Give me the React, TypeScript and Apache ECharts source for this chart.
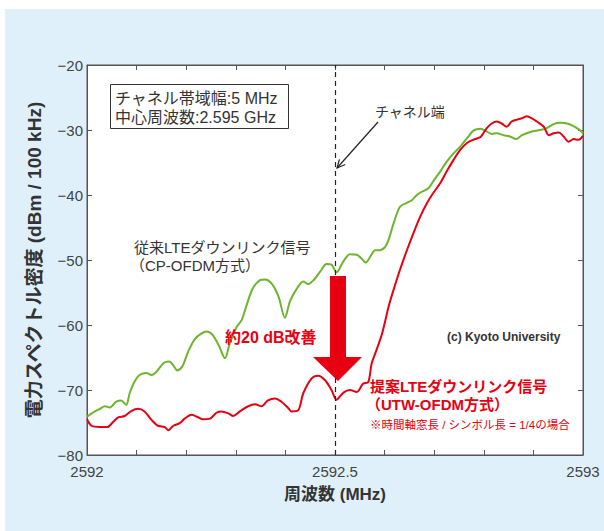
import React, { useEffect, useRef } from "react";
import * as echarts from "echarts";

// ---- data ----
const baseFreqMHz = 2592;
const channelEdgeMHz = 2592.5;
const xTickLabels = ["2592", "2592.5", "2593"];

// Conventional LTE downlink (CP-OFDM), offset from 2592 MHz
const conventionalOffset = [
  0.0, 0.016, 0.026, 0.036, 0.046, 0.059, 0.069, 0.079, 0.086, 0.096, 0.106, 0.12, 0.13, 0.14,
  0.155, 0.166, 0.174, 0.182, 0.192, 0.204, 0.217, 0.231, 0.241, 0.253, 0.266, 0.278, 0.288,
  0.301, 0.312, 0.322, 0.334, 0.349, 0.359, 0.372, 0.386, 0.399, 0.409, 0.423, 0.436, 0.446,
  0.458, 0.47, 0.483, 0.493, 0.503, 0.517, 0.53, 0.544, 0.554, 0.562, 0.571, 0.581, 0.591,
  0.601, 0.608, 0.618, 0.631, 0.645, 0.655, 0.665, 0.675, 0.688, 0.698, 0.712, 0.725, 0.739,
  0.752, 0.766, 0.779, 0.793, 0.803, 0.816, 0.826, 0.84, 0.853, 0.865, 0.877, 0.894, 0.914,
  0.927, 0.941, 0.954, 0.968, 0.981, 0.995, 1.0,
];
const conventionalLevel = [
  -74.1, -73.3, -72.9, -72.5, -72.7, -71.8, -71.6, -72.3, -70.5, -68.7, -67.7, -67.4, -67.7, -67.2,
  -65.8, -65.6, -66.2, -67.0, -66.4, -64.1, -62.2, -61.3, -61.0, -61.5, -63.2, -65.1, -62.8,
  -60.4, -59.2, -56.9, -54.4, -53.1, -53.0, -53.6, -55.6, -58.9, -56.4, -54.4, -53.3, -53.7,
  -53.0, -51.8, -50.6, -50.7, -51.9, -50.2, -49.1, -49.2, -49.8, -50.4, -49.5, -48.5, -48.5,
  -48.0, -46.9, -44.4, -41.8, -41.2, -40.8, -40.0, -39.5, -39.0, -37.9, -36.4, -34.9, -33.6,
  -32.6, -31.3, -30.1, -29.8, -30.1, -30.6, -30.5, -30.8, -31.0, -31.4, -30.8, -30.3, -30.0,
  -29.7, -29.1, -28.9, -29.0, -29.4, -30.1, -30.5,
];

// Proposed LTE downlink (UTW-OFDM), offset from 2592 MHz
const proposedOffset = [
  0.0, 0.009, 0.026, 0.041, 0.053, 0.063, 0.076, 0.09, 0.103, 0.116, 0.13, 0.143, 0.157, 0.164,
  0.174, 0.187, 0.197, 0.211, 0.224, 0.234, 0.248, 0.261, 0.271, 0.285, 0.295, 0.308, 0.325,
  0.339, 0.352, 0.365, 0.379, 0.392, 0.406, 0.412, 0.426, 0.436, 0.453, 0.466, 0.48, 0.493,
  0.503, 0.517, 0.53, 0.544, 0.557, 0.567, 0.574, 0.581, 0.595, 0.608, 0.618, 0.631, 0.645,
  0.658, 0.672, 0.685, 0.698, 0.712, 0.725, 0.739, 0.752, 0.766, 0.779, 0.793, 0.799, 0.806,
  0.816, 0.826, 0.836, 0.846, 0.856, 0.867, 0.877, 0.887, 0.897, 0.907, 0.921, 0.931, 0.941,
  0.951, 0.961, 0.971, 0.981, 0.991, 1.0,
];
const proposedLevel = [
  -74.5, -75.5, -75.7, -75.7, -74.9, -74.2, -74.0, -73.2, -72.9, -73.3, -74.6, -75.5, -75.7, -76.2,
  -75.5, -75.1, -74.4, -73.8, -74.2, -74.5, -74.4, -73.5, -73.3, -73.6, -74.0, -73.3, -72.5,
  -72.2, -72.5, -71.6, -71.3, -71.8, -72.8, -73.3, -73.1, -70.5, -68.2, -67.8, -68.5, -70.0,
  -71.5, -70.4, -70.0, -70.3, -69.0, -68.8, -65.9, -64.4, -61.3, -57.2, -54.6, -51.5, -48.5,
  -45.9, -43.3, -41.3, -39.7, -38.2, -36.4, -34.6, -33.1, -32.0, -31.5, -31.1, -30.5, -29.7,
  -29.0, -28.7, -29.0, -29.5, -28.7, -28.4, -28.2, -27.9, -28.2, -28.7, -29.5, -30.8, -30.5,
  -30.4, -31.0, -31.8, -31.4, -31.5, -30.9,
];

const FONT = "'Liberation Sans', 'Noto Sans CJK JP', sans-serif";
const RED = "#e60012";
const GREEN = "#6cb52d";

function arrowHeadPoints(tx: number, ty: number, fx: number, fy: number, len: number, ang: number) {
  const a = Math.atan2(fy - ty, fx - tx);
  return [
    [tx + len * Math.cos(a + ang), ty + len * Math.sin(a + ang)],
    [tx, ty],
    [tx + len * Math.cos(a - ang), ty + len * Math.sin(a - ang)],
  ];
}

function txt(x: number, y: number, text: string, font: string, fill: string, align = "left") {
  return {
    type: "text",
    x,
    y,
    z: 100,
    silent: true,
    style: {
      text,
      font,
      fill,
      textAlign: align,
      textVerticalAlign: "middle",
      align,
      verticalAlign: "middle",
    },
  };
}

export default function App() {
  const ref = useRef<HTMLDivElement>(null);

  useEffect(() => {
    if (!ref.current) return;
    const chart = echarts.init(ref.current, undefined, { renderer: "svg" });

    const conventionalData = conventionalOffset.map((o, i) => [baseFreqMHz + o, conventionalLevel[i]]);
    const proposedData = proposedOffset.map((o, i) => [baseFreqMHz + o, proposedLevel[i]]);

    const xLabelFormatter = (v: number) => {
      const r = Math.round(v * 10) / 10;
      const s = String(r);
      return xTickLabels.includes(s) ? s : "";
    };

    const axisCommon = {
      axisLine: { show: true, lineStyle: { color: "#555", width: 1 } },
      axisTick: { show: true, inside: true, length: 5, lineStyle: { color: "#555", width: 1 } },
      splitLine: { show: false },
    };

    const thinArrowFrom = [378, 122];
    const thinArrowTo = [337, 168];

    chart.setOption({
      animation: false,
      backgroundColor: "transparent",
      grid: {
        left: 87,
        top: 65,
        right: 21,
        bottom: 76,
        show: true,
        backgroundColor: "#ffffff",
        borderColor: "#555",
        borderWidth: 1,
      },
      xAxis: [
        {
          type: "value",
          min: 2592,
          max: 2593,
          interval: 0.1,
          position: "bottom",
          ...axisCommon,
          axisLabel: {
            formatter: xLabelFormatter,
            color: "#444",
            fontSize: 15,
            fontFamily: FONT,
            margin: 9,
            showMinLabel: true,
            showMaxLabel: true,
          },
          name: "周波数 (MHz)",
          nameLocation: "middle",
          nameGap: 31,
          nameTextStyle: { fontSize: 17, fontWeight: "bold", color: "#333", fontFamily: FONT },
        },
        {
          type: "value",
          min: 2592,
          max: 2593,
          interval: 0.1,
          position: "top",
          ...axisCommon,
          axisLabel: { show: false },
        },
      ],
      yAxis: [
        {
          type: "value",
          min: -80,
          max: -20,
          interval: 10,
          position: "left",
          ...axisCommon,
          axisLabel: {
            formatter: (v: number) => String(v).replace("-", "\u2212"),
            color: "#444",
            fontSize: 15,
            fontFamily: FONT,
            margin: 4,
          },
          name: "電力スペクトル密度 (dBm / 100 kHz)",
          nameLocation: "middle",
          nameRotate: 90,
          nameGap: 43,
          nameTextStyle: { fontSize: 19, fontWeight: "bold", color: "#333", fontFamily: FONT },
        },
        {
          type: "value",
          min: -80,
          max: -20,
          interval: 10,
          position: "right",
          ...axisCommon,
          axisLabel: { show: false },
        },
      ],
      series: [
        {
          type: "line",
          name: "従来LTEダウンリンク信号",
          data: conventionalData,
          showSymbol: false,
          smooth: 0.3,
          lineStyle: { color: GREEN, width: 2 },
          itemStyle: { color: GREEN },
          silent: true,
          markLine: {
            silent: true,
            symbol: ["none", "none"],
            label: { show: false },
            lineStyle: { type: [5, 4], color: "#222", width: 1.2 },
            data: [{ xAxis: channelEdgeMHz }],
          },
        },
        {
          type: "line",
          name: "提案LTEダウンリンク信号",
          data: proposedData,
          showSymbol: false,
          smooth: 0.3,
          lineStyle: { color: RED, width: 2 },
          itemStyle: { color: RED },
          silent: true,
        },
      ],
      graphic: [
        {
          type: "rect",
          z: 99,
          silent: true,
          shape: { x: 110.5, y: 84.5, width: 178, height: 44 },
          style: { fill: "#fff", stroke: "#333", lineWidth: 1 },
        },
        txt(115, 98, "チャネル帯域幅:5 MHz", `16px ${FONT}`, "#333"),
        txt(115, 117, "中心周波数:2.595 GHz", `16px ${FONT}`, "#333"),
        txt(375, 112, "チャネル端", `14px ${FONT}`, "#333"),
        {
          type: "line",
          z: 100,
          silent: true,
          shape: { x1: thinArrowFrom[0], y1: thinArrowFrom[1], x2: thinArrowTo[0], y2: thinArrowTo[1] },
          style: { stroke: "#222", lineWidth: 1.2 },
        },
        {
          type: "polyline",
          z: 100,
          silent: true,
          shape: {
            points: arrowHeadPoints(thinArrowTo[0], thinArrowTo[1], thinArrowFrom[0], thinArrowFrom[1], 9, 0.45),
          },
          style: { stroke: "#222", lineWidth: 1.2, fill: null },
        },
        txt(134, 247, "従来LTEダウンリンク信号", `15px ${FONT}`, "#333"),
        txt(130, 265, "（CP-OFDM方式）", `15px ${FONT}`, "#333"),
        txt(225, 337, "約20 dB改善", `bold 16px ${FONT}`, RED),
        {
          type: "polygon",
          z: 100,
          silent: true,
          shape: {
            points: [
              [330, 276],
              [346, 276],
              [346, 357],
              [362, 357],
              [338, 381],
              [313, 357],
              [330, 357],
            ],
          },
          style: { fill: RED },
        },
        txt(447, 337, "(c) Kyoto University", `bold 12px ${FONT}`, "#333"),
        txt(370, 386, "提案LTEダウンリンク信号", `bold 15px ${FONT}`, RED),
        txt(366, 404, "（UTW-OFDM方式）", `bold 15px ${FONT}`, RED),
        txt(370, 425, "※時間軸窓長 / シンボル長 = 1/4の場合", `11.5px ${FONT}`, RED),
      ],
    });

    return () => chart.dispose();
  }, []);

  return (
    <div style={{ position: "fixed", left: 0, top: 0, width: 604, height: 531, background: "#fff", overflow: "hidden" }}>
      <div style={{ position: "absolute", left: 5, top: 9, right: 0, bottom: 0, background: "#dff0fa" }} />
      <div ref={ref} style={{ position: "absolute", left: 0, top: 0, width: 604, height: 531 }} />
    </div>
  );
}
